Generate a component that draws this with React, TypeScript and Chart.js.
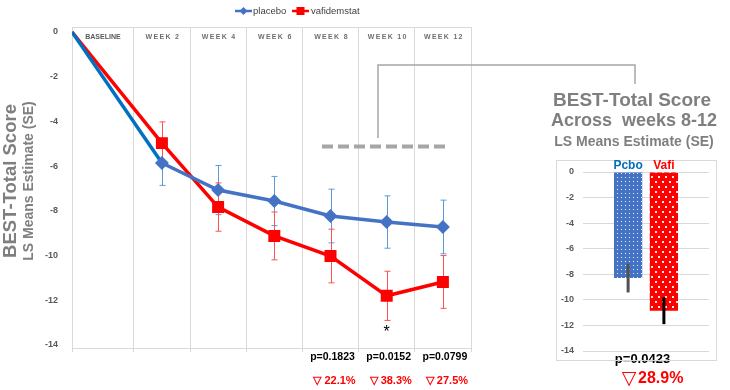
import React, { useEffect, useRef } from 'react';
import { Chart, registerables } from 'chart.js';
Chart.register(...registerables);

const categories = ['BASELINE', 'WEEK 2', 'WEEK 4', 'WEEK 6', 'WEEK 8', 'WEEK 10', 'WEEK 12'];
const placebo = [0, -5.86, -7.07, -7.56, -8.23, -8.5, -8.72];
const placeboSE = [0, 1.0, 1.1, 1.1, 1.2, 1.17, 1.2];
const vafidemstat = [0, -4.97, -7.83, -9.12, -10.02, -11.8, -11.18];
const vafidemstatSE = [0, 0.95, 1.08, 1.07, 1.2, 1.1, 1.18];
const pValues = ['', '', '', '', 'p=0.1823', 'p=0.0152', 'p=0.0799'];
const reductions = ['', '', '', '', '22.1%', '38.3%', '27.5%'];
const significant = [false, false, false, false, false, true, false];
const yTicks = [0, -2, -4, -6, -8, -10, -12, -14];

const barLabels = ['Pcbo', 'Vafi'];
const barValues = [-8.3, -10.85];
const barSE = [1.12, 1.05];
const barPValue = 'p=0.0423';
const barReduction = '28.9%';

const FONT = '"Liberation Sans", Arial, sans-serif';
const BLUE = '#4472C4';
const RED = '#FF0000';
const GRID = '#d9d9d9';
const TICK = '#595959';
const TITLE = '#7f7f7f';

// column layout: first column (baseline) is slightly wider than the others
const colEdge = (i: number) => (i === 0 ? 0 : i + 0.1);
const colCenter = (i: number) => (colEdge(i) + colEdge(i + 1)) / 2;
// the baseline point sits on the left edge, other points at column centres
const xPos = (i: number) => (i === 0 ? 0 : colCenter(i));

function makePattern(bg: string, tw: number, th: number, dots: number[][]) {
  const c = document.createElement('canvas');
  c.width = tw;
  c.height = th;
  const g = c.getContext('2d')!;
  g.fillStyle = bg;
  g.fillRect(0, 0, tw, th);
  g.fillStyle = 'rgba(255,255,255,0.9)';
  dots.forEach(([x, y, s]) => g.fillRect(x, y, s, s));
  return g.createPattern(c, 'repeat')!;
}

const mainPlugin = {
  id: 'mainDecor',
  beforeDatasetsDraw(chart: any) {
    const { ctx, chartArea, scales } = chart;
    const ys = scales.y;
    ctx.save();
    ctx.strokeStyle = GRID;
    ctx.lineWidth = 1;
    ctx.beginPath();
    ctx.moveTo(chartArea.left, chartArea.top + 0.5);
    ctx.lineTo(chartArea.right, chartArea.top + 0.5);
    ctx.stroke();
    const sets = [
      { vals: placebo, se: placeboSE, color: '#5B9BD5', d: 0 },
      { vals: vafidemstat, se: vafidemstatSE, color: '#FF5050', d: 1 },
    ];
    sets.forEach((s) => {
      const meta = chart.getDatasetMeta(s.d);
      ctx.strokeStyle = s.color;
      ctx.lineWidth = 1;
      s.vals.forEach((v, i) => {
        if (!s.se[i]) return;
        const x = Math.round(meta.data[i].x) + 0.5;
        const yt = ys.getPixelForValue(v + s.se[i]);
        const yb = ys.getPixelForValue(v - s.se[i]);
        ctx.beginPath();
        ctx.moveTo(x, yt);
        ctx.lineTo(x, yb);
        ctx.moveTo(x - 3, yt);
        ctx.lineTo(x + 3, yt);
        ctx.moveTo(x - 3, yb);
        ctx.lineTo(x + 3, yb);
        ctx.stroke();
      });
    });
    ctx.restore();
  },
  afterDraw(chart: any) {
    const { ctx, chartArea, scales } = chart;
    const xs = scales.x, ys = scales.y;
    ctx.save();
    ctx.fillStyle = TICK;
    ctx.textAlign = 'center';
    ctx.textBaseline = 'middle';
    categories.forEach((c, i) => {
      ctx.font = `bold 7px ${FONT}`;
      ctx.fillStyle = i === 0 ? TICK : '#6f6f6f';
      (ctx as any).letterSpacing = i === 0 ? '0px' : '1.3px';
      ctx.fillText(c, xs.getPixelForValue(colCenter(i)) + (i === 0 ? 0 : 1), chartArea.top + 10);
    });
    (ctx as any).letterSpacing = '0px';

    categories.forEach((c, i) => {
      const x = xs.getPixelForValue(xPos(i));
      if (pValues[i]) {
        ctx.fillStyle = '#000';
        ctx.font = `bold 10.5px ${FONT}`;
        ctx.fillText(pValues[i], x + 2, 357);
      }
      if (reductions[i]) {
        ctx.fillStyle = RED;
        ctx.font = `bold 11px ${FONT}`;
        ctx.fillText('\u25BD ' + reductions[i], x + 4, 381);
      }
      if (significant[i]) {
        ctx.fillStyle = '#000';
        ctx.font = `16px ${FONT}`;
        ctx.fillText('*', x, 333);
      }
    });

    ctx.strokeStyle = '#a6a6a6';
    ctx.lineWidth = 4;
    ctx.setLineDash([11, 5]);
    const dy = ys.getPixelForValue(-5.12);
    ctx.beginPath();
    ctx.moveTo(322, dy);
    ctx.lineTo(447, dy);
    ctx.stroke();
    ctx.setLineDash([]);
    ctx.lineWidth = 1.5;
    ctx.beginPath();
    ctx.moveTo(378, 138);
    ctx.lineTo(378, 65);
    ctx.lineTo(635, 65);
    ctx.lineTo(635, 84);
    ctx.stroke();

    // legend
    ctx.lineWidth = 2.5;
    ctx.strokeStyle = BLUE;
    ctx.beginPath();
    ctx.moveTo(235, 11);
    ctx.lineTo(252, 11);
    ctx.stroke();
    ctx.fillStyle = BLUE;
    ctx.beginPath();
    ctx.moveTo(243.5, 7);
    ctx.lineTo(247.5, 11);
    ctx.lineTo(243.5, 15);
    ctx.lineTo(239.5, 11);
    ctx.closePath();
    ctx.fill();
    ctx.strokeStyle = RED;
    ctx.beginPath();
    ctx.moveTo(292, 11);
    ctx.lineTo(309, 11);
    ctx.stroke();
    ctx.fillStyle = RED;
    ctx.fillRect(296.5, 7, 8, 8);
    ctx.fillStyle = '#404040';
    ctx.font = `9.5px ${FONT}`;
    ctx.textAlign = 'left';
    ctx.fillText('placebo', 253, 11);
    ctx.fillText('vafidemstat', 311, 11);

    // y-axis titles
    ctx.fillStyle = TITLE;
    ctx.textAlign = 'center';
    ctx.save();
    ctx.translate(11, 181);
    ctx.rotate(-Math.PI / 2);
    ctx.font = `bold 18.5px ${FONT}`;
    ctx.fillText('BEST-Total Score', 0, 0);
    ctx.restore();
    ctx.save();
    ctx.translate(29.5, 181);
    ctx.rotate(-Math.PI / 2);
    ctx.font = `bold 14px ${FONT}`;
    ctx.fillText('LS Means Estimate (SE)', 0, 0);
    ctx.restore();

    // right panel titles
    ctx.font = `bold 19px ${FONT}`;
    ctx.fillText('BEST-Total Score', 632, 101);
    ctx.font = `bold 18px ${FONT}`;
    ctx.fillText('Across  weeks 8-12', 634, 121);
    ctx.font = `bold 14px ${FONT}`;
    ctx.fillText('LS Means Estimate (SE)', 634, 142);

    ctx.fillStyle = '#000';
    ctx.font = `bold 13px ${FONT}`;
    ctx.fillText(barPValue, 642.5, 359);
    ctx.fillStyle = RED;
    ctx.font = `19px "DejaVu Sans", sans-serif`;
    ctx.fillText('\u25BD', 629, 379);
    ctx.font = `bold 16px ${FONT}`;
    ctx.textAlign = 'left';
    ctx.fillText(barReduction, 638, 379);
    ctx.restore();
  },
};

const barPlugin = {
  id: 'barDecor',
  afterDatasetsDraw(chart: any) {
    const { ctx, chartArea, scales } = chart;
    const ys = scales.y;
    ctx.save();
    ctx.strokeStyle = GRID;
    ctx.lineWidth = 1;
    ctx.strokeRect(0.5, 0.5, chart.width - 1, chart.height - 1);
    const errColors = ['#505050', '#000000'];
    const labColors = ['#0070C0', RED];
    barValues.forEach((v, d) => {
      const el = chart.getDatasetMeta(d).data[0];
      const x = el.x;
      ctx.strokeStyle = errColors[d];
      ctx.lineWidth = 3;
      ctx.beginPath();
      ctx.moveTo(x, ys.getPixelForValue(v + barSE[d]));
      ctx.lineTo(x, ys.getPixelForValue(v - barSE[d]));
      ctx.stroke();
      ctx.fillStyle = labColors[d];
      ctx.font = `bold 12px ${FONT}`;
      ctx.textAlign = 'center';
      ctx.textBaseline = 'middle';
      ctx.fillText(barLabels[d], x, chartArea.top - 6);
    });
    ctx.restore();
  },
};

export default function App() {
  const mainRef = useRef<HTMLCanvasElement>(null);
  const barRef = useRef<HTMLCanvasElement>(null);

  useEffect(() => {
    document.body.style.margin = '0';
    const main = new Chart(mainRef.current!, {
      type: 'scatter',
      data: {
        datasets: [
          {
            label: 'placebo',
            data: placebo.map((v, i) => ({ x: xPos(i), y: v })),
            showLine: true,
            borderColor: BLUE,
            backgroundColor: BLUE,
            borderWidth: 3.5,
            pointStyle: 'rectRot',
            pointRadius: (c: any) => (c.dataIndex === 0 ? 0 : 4.5),
            segment: { borderColor: (c: any) => (c.p0DataIndex === 0 ? '#0070C0' : undefined) },
          } as any,
          {
            label: 'vafidemstat',
            data: vafidemstat.map((v, i) => ({ x: xPos(i), y: v })),
            showLine: true,
            borderColor: RED,
            backgroundColor: RED,
            borderWidth: 3.5,
            pointStyle: 'rect',
            pointRadius: (c: any) => (c.dataIndex === 0 ? 0 : 6),
          } as any,
        ],
      },
      options: {
        responsive: false,
        devicePixelRatio: 1,
        animation: false,
        layout: { padding: { top: 27, bottom: 38, left: 0, right: 259 } },
        plugins: { legend: { display: false }, tooltip: { enabled: false } },
        scales: {
          x: {
            type: 'linear',
            min: 0,
            max: colEdge(categories.length),
            afterBuildTicks: (s: any) => {
              s.ticks = categories.concat(['']).map((_, i) => ({ value: colEdge(i) }));
            },
            afterFit: (s: any) => {
              s.height = 4;
            },
            ticks: { display: false },
            grid: { color: GRID, lineWidth: 1, tickLength: 4, drawTicks: true },
            border: { display: true, color: GRID },
          },
          y: {
            type: 'linear',
            min: -14.134,
            max: 0.224,
            afterBuildTicks: (s: any) => {
              s.ticks = yTicks.map((v) => ({ value: v }));
            },
            afterFit: (s: any) => {
              s.width = 72;
            },
            ticks: { font: { family: FONT, size: 9, weight: 'bold' }, color: TICK, padding: 6 },
            grid: { display: false },
            border: { display: true, color: GRID },
          },
        },
      } as any,
      plugins: [mainPlugin],
    });

    const bluePat = makePattern(BLUE, 4, 4, [[1, 1, 1]]);
    const redPat = makePattern(RED, 7, 10, [[1, 1, 2], [4, 6, 2]]);
    const bar = new Chart(barRef.current!, {
      type: 'bar',
      data: {
        labels: [''],
        datasets: barLabels.map((l, i) => ({
          label: l,
          data: [barValues[i]],
          backgroundColor: i === 0 ? bluePat : redPat,
          borderWidth: 0,
          categoryPercentage: 0.568,
          barPercentage: 0.79,
        })),
      },
      options: {
        responsive: false,
        devicePixelRatio: 1,
        animation: false,
        layout: { padding: { top: 12, bottom: 10, left: 0, right: 8 } },
        plugins: { legend: { display: false }, tooltip: { enabled: false } },
        scales: {
          x: { display: false },
          y: {
            min: -14,
            max: 0,
            ticks: { stepSize: 2, font: { family: FONT, size: 9, weight: 'bold' }, color: TICK, padding: 9 },
            grid: { color: GRID, drawTicks: false },
            border: { display: false },
            afterFit: (s: any) => {
              s.width = 27;
              s.paddingTop = 0;
              s.paddingBottom = 0;
            },
          },
        },
      } as any,
      plugins: [barPlugin],
    });
    return () => {
      main.destroy();
      bar.destroy();
    };
  }, []);

  return (
    <div style={{ position: 'relative', width: 730, height: 390, background: '#fff' }}>
      <canvas ref={mainRef} width={730} height={390} style={{ position: 'absolute', left: 0, top: 0 }} />
      <canvas ref={barRef} width={161} height={201} style={{ position: 'absolute', left: 556, top: 160 }} />
    </div>
  );
}
